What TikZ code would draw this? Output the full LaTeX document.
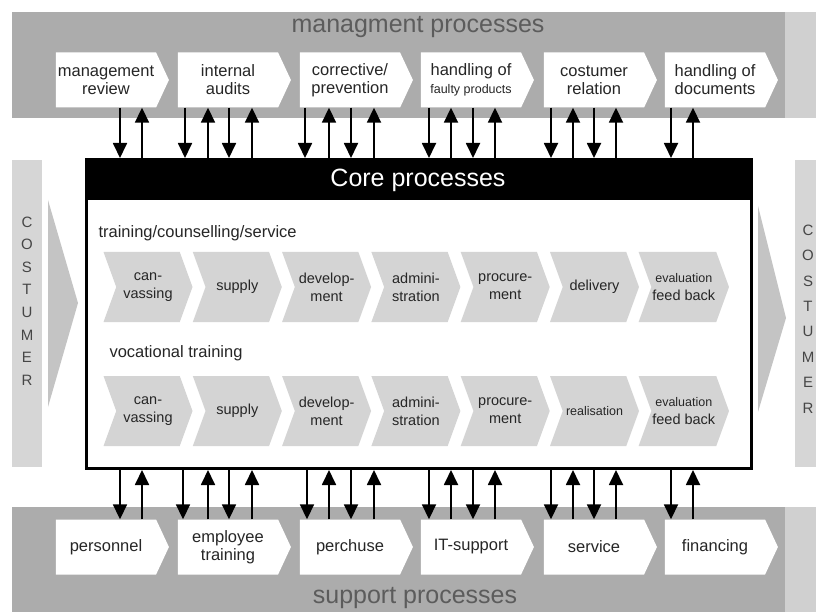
\documentclass[tikz,border=0pt]{standalone}
\usepackage{fontspec}
\setmainfont{Liberation Sans}
\usetikzlibrary{arrows.meta,shapes.symbols,calc}
\definecolor{band}{RGB}{172,172,172}
\definecolor{bandlight}{RGB}{208,208,208}
\definecolor{custbar}{RGB}{214,214,214}
\definecolor{custarrow}{RGB}{196,196,196}
\definecolor{chev}{RGB}{212,212,212}
\definecolor{bandtext}{RGB}{92,92,92}
\definecolor{lettertext}{RGB}{70,70,70}
\begin{document}
\begin{tikzpicture}[x=1pt,y=-1pt,
  procbox/.style={signal, signal to=east, signal pointer angle=130, fill=white,
    minimum width=113pt, minimum height=55pt, inner sep=1pt, align=center,
    font=\fontsize{16.5}{18}\selectfont, text=black!85},
  chevron/.style={signal, signal from=west, signal to=east, signal pointer angle=140,
    fill=chev, minimum width=89pt, minimum height=70pt, inner sep=1pt, align=center,
    font=\fontsize{14.5}{18}\selectfont, text=black!85},
  flow/.style={line width=1.8pt, -{Triangle[width=14pt,length=15pt]}},
  bandlabel/.style={font=\fontsize{25}{25}\selectfont, text=bandtext},
  rowlabel/.style={anchor=west, font=\fontsize{16.5}{18}\selectfont, text=black!85},
  letters/.style={align=center, font=\fontsize{15}{22.6}\selectfont, text=lettertext}
]
\useasboundingbox (0,0) rectangle (816,612);

% process bands
\fill[band] (12,12) rectangle (785,118);
\fill[bandlight] (785,12) rectangle (816,118);
\fill[band] (12,507) rectangle (785,612);
\fill[bandlight] (785,507) rectangle (816,612);
\node[bandlabel] (mgmt) at (418,27) {managment processes};
\node[bandlabel] (supp) at (415,598) {support processes};

% customer bars
\fill[custbar] (12,160) rectangle (42,467);
\fill[custbar] (795,160) rectangle (816,467);
\fill[custarrow] (48,200) -- (78,303) -- (48,407) -- cycle;
\fill[custarrow] (758,206) -- (786,318) -- (758,412) -- cycle;
\node[letters] (custL) at (27,301) {C\\O\\S\\T\\U\\M\\E\\R};
\node[letters, font=\fontsize{15}{25.4}\selectfont] (custR) at (808,319) {C\\O\\S\\T\\U\\M\\E\\R};

% management processes
\node[procbox] (m1) at (106,80) {management\\review};
\node[procbox] (m2) at (228,80) {internal\\audits};
\node[procbox] (m3) at (350,80) {corrective/\\prevention};
\node[procbox] (m4) at (471,80) {handling of\\{\fontsize{12.5}{14}\selectfont faulty products}};
\node[procbox] (m5) at (594,80) {costumer\\relation};
\node[procbox] (m6) at (715,80) {handling of\\documents};

% support processes
\node[procbox] (s1) at (106,547) {personnel};
\node[procbox] (s2) at (228,547) {employee\\training};
\node[procbox] (s3) at (350,547) {perchuse};
\node[procbox] (s4) at (471,547) {IT-support};
\node[procbox] (s5) at (594,547) {service};
\node[procbox] (s6) at (715,547) {financing};

% core processes frame
\node[draw, line width=3pt, fill=white, minimum width=665pt, minimum height=309pt,
  anchor=north west, inner sep=0pt] (core) at (85,158) {};
\fill[black] (85,158) rectangle (750,200);
\node[font=\fontsize{25}{25}\selectfont, text=white] (coretitle) at (418,180) {Core processes};

\node[rowlabel] (row1) at (95,233) {training/counselling/service};
\node[rowlabel] (row2) at (106,353) {vocational training};

% value chains
\foreach \i/\txt in {0/{can-\\vassing},1/supply,2/{develop-\\ment},3/{admini-\\stration},
    4/{procure-\\ment},5/delivery,6/{\fontsize{12.5}{17}\selectfont evaluation\\feed back}}{
  \node[chevron] (a\i) at (148+89.3*\i,287) {\txt};
}
\foreach \i/\txt in {0/{can-\\vassing},1/supply,2/{develop-\\ment},3/{admini-\\stration},
    4/{procure-\\ment},5/{\fontsize{12.5}{17}\selectfont realisation},6/{\fontsize{12.5}{17}\selectfont evaluation\\feed back}}{
  \node[chevron] (b\i) at (148+89.3*\i,411) {\txt};
}

% links between management processes and core
\foreach \x/\b in {120/m1,185/m2,229/m2,305/m3,351/m3,429/m4,473/m4,551/m5,594/m5,671/m6}{
  \path (\x,0) coordinate (ax);
  \draw[flow] (\b.south -| ax) -- (core.north -| ax);
}
\foreach \x/\b in {142/m1,208/m2,252/m2,329/m3,374/m3,451/m4,495/m4,573/m5,616/m5,693/m6}{
  \path (\x,0) coordinate (ax);
  \draw[flow] (core.north -| ax) -- (\b.south -| ax);
}
% links between core and support processes
\foreach \x/\b in {120/s1,183/s2,229/s2,307/s3,351/s3,429/s4,473/s4,551/s5,594/s5,671/s6}{
  \path (\x,0) coordinate (ax);
  \draw[flow] (core.south -| ax) -- (\b.north -| ax);
}
\foreach \x/\b in {142/s1,208/s2,252/s2,329/s3,374/s3,451/s4,495/s4,573/s5,616/s5,693/s6}{
  \path (\x,0) coordinate (ax);
  \draw[flow] (\b.north -| ax) -- (core.south -| ax);
}
\end{tikzpicture}
\end{document}
